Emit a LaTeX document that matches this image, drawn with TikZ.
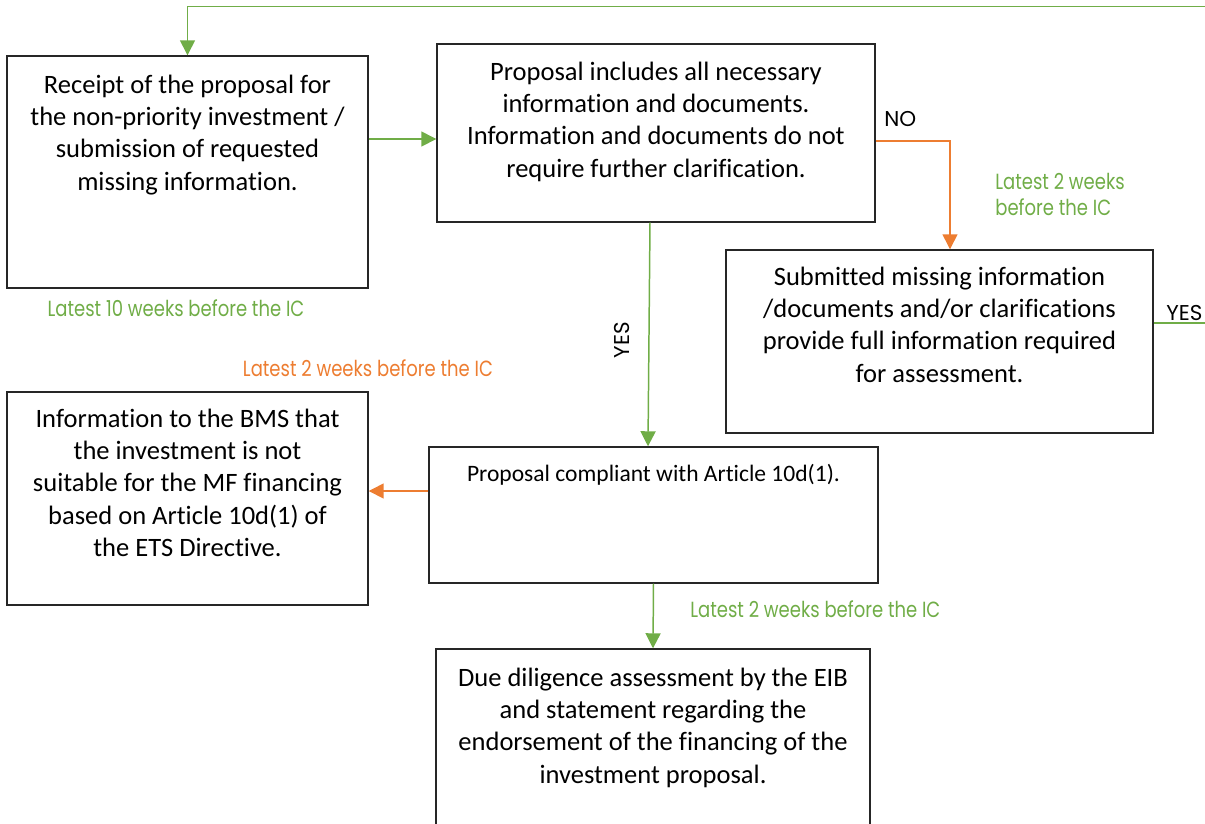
\documentclass[tikz,border=0pt]{standalone}
\usepackage{fontspec}
\setmainfont{Carlito}[Ligatures=NoCommon]
\newfontfamily\lblfont[FakeStretch=0.82]{Poppins}
\newfontfamily\ynfont{Poppins}
\usetikzlibrary{arrows.meta,calc}
\definecolor{ogreen}{HTML}{70AD47}
\definecolor{oorange}{HTML}{ED7D31}
\newcommand\boxbody[4]{\parbox[c][#2][t]{#1}{\centering\rule{0pt}{#3}#4}}
\tikzset{
  box/.style={draw=black!85, line width=0.85pt, inner sep=0pt, font=\fontsize{15.1pt}{18.4pt}\selectfont},
  smallbox/.style={box, font=\fontsize{13.4pt}{16.4pt}\selectfont},
  lbl/.style={inner sep=0pt, font=\lblfont\fontsize{12.5pt}{14.8pt}\selectfont},
  yn/.style={inner sep=0pt, font=\ynfont\fontsize{12.2pt}{15pt}\selectfont},
  garrow/.style={draw=ogreen, line width=0.85pt, -{Triangle[width=0.3cm,length=0.3cm]}},
  oarrow/.style={draw=oorange, line width=0.85pt, -{Triangle[width=0.3cm,length=0.3cm]}}
}
\begin{document}
\begin{tikzpicture}[x=0.02cm, y=-0.02cm]
\path[use as bounding box, clip] (0,0) rectangle (1205,823);

\node[box] (A) at (187.5,172) {\boxbody{7.22cm}{4.64cm}{0.74cm}{Receipt of the proposal for\\ the non-priority investment /\\ submission of requested\\ missing information.}};
\node[box] (B) at (656,133) {\boxbody{8.76cm}{3.56cm}{0.72cm}{Proposal includes all necessary\\ information and documents.\\ Information and documents do not\\ require further clarification.}};
\node[box] (C) at (939.5,341.5) {\boxbody{8.54cm}{3.66cm}{0.70cm}{Submitted missing information\\ /documents and/or clarifications\\ provide full information required\\ for assessment.}};
\node[box] (D) at (187.5,498.5) {\boxbody{7.22cm}{4.26cm}{0.70cm}{Information to the BMS that\\ the investment is not\\ suitable for the MF financing\\ based on Article 10d(1) of\\ the ETS Directive.}};
\node[smallbox] (E) at (653.5,515) {\boxbody{8.98cm}{2.72cm}{0.68cm}{Proposal compliant with Article 10d(1).}};
\node[box] (F) at (653,744.5) {\boxbody{8.68cm}{3.82cm}{0.74cm}{Due diligence assessment by the EIB\\ and statement regarding the\\ endorsement of the financing of the\\ investment proposal.}};

% connectors
\coordinate (a1) at ($(A.east)+(0,-33)$);
\draw[garrow] (a1) -- (a1 -| B.west);
\draw[oarrow] ($(B.east)+(0,8)$) -| ($(C.north)+(10.5,0)$);
\draw[garrow] ($(C.east)+(0,-18.5)$) -- ++(70,0) |- ($(A.north)+(0,-49)$) -- (A.north);
\draw[garrow] ($(B.south)+(-6,0)$) -- ($(E.north)+(-5.5,0)$);
\draw[oarrow] ($(E.west)+(0,-24)$) -- ($(D.east)+(0,-7.5)$);
\draw[garrow] (E.south) -- (F.north);

% labels
\node[lbl, text=ogreen, anchor=base] (l10) at (176,316) {Latest 10 weeks before the IC};
\node[lbl, text=oorange, anchor=base] (l2o) at (368,376) {Latest 2 weeks before the IC};
\node[lbl, text=ogreen, anchor=base west] (l2b) at (690,617) {Latest 2 weeks before the IC};
\node[lbl, text=ogreen, anchor=base west, align=left] (l2r) at (995,215) {Latest 2 weeks\\before the IC};
\node[yn, anchor=base west] (no) at (884,126) {NO};
\node[yn, anchor=base west] (yes2) at (1166,320) {YES};
\node[yn, rotate=90] (yes1) at (622,340) {YES};
\end{tikzpicture}
\end{document}
